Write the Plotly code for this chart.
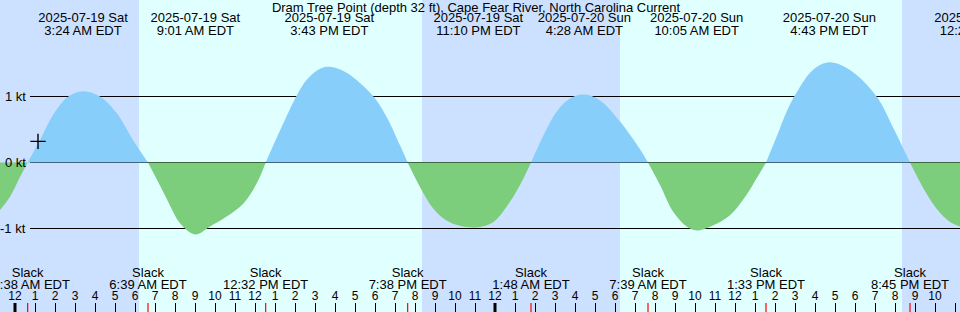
import plotly.graph_objects as go
from datetime import datetime

BASE = datetime(2025, 7, 19)


def hrs(s):
    return (datetime.strptime(s, "%Y-%m-%d %H:%M") - BASE).total_seconds() / 3600.0


# ---------------- data ----------------
TITLE = "Dram Tree Point (depth 32 ft), Cape Fear River, North Carolina Current"

# current speed samples (hours after 2025-07-19 00:00, knots)
sample_hours = [-0.75, -0.25, 0.25, 1.25, 1.75, 2.25, 2.67, 4.25, 5.08, 5.92,
                7.25, 7.75, 8.25, 9.75, 10.58, 11.42, 12.08,
                13.08, 13.58, 14.08, 14.58, 15.25, 16.58, 17.92, 18.58, 19.25,
                20.25, 20.92, 21.58, 22.25, 23.92, 24.58, 25.25,
                26.42, 27.08, 27.75, 29.25, 30.25, 31.25,
                32.25, 32.92, 33.58, 34.92, 35.75, 36.58, 37.08,
                38.08, 38.58, 39.08, 39.92, 41.75, 43.08, 43.92,
                45.42, 46.08, 46.75, 47.25]
sample_kt = [-0.72, -0.52, -0.22, 0.34, 0.64, 0.87, 1.0, 1.0, 0.75, 0.33,
             -0.35, -0.65, -0.92, -0.97, -0.82, -0.62, -0.32,
             0.37, 0.70, 1.01, 1.25, 1.42, 1.36, 1.0, 0.69, 0.26,
             -0.37, -0.70, -0.88, -0.96, -0.90, -0.67, -0.34,
             0.41, 0.77, 0.97, 0.94, 0.62, 0.20,
             -0.34, -0.75, -0.97, -0.95, -0.80, -0.49, -0.24,
             0.39, 0.77, 1.06, 1.41, 1.40, 1.0, 0.52,
             -0.39, -0.70, -0.90, -0.97]

slack_times = ["2025-07-19 00:38", "2025-07-19 06:39", "2025-07-19 12:32", "2025-07-19 19:38",
               "2025-07-20 01:48", "2025-07-20 07:39", "2025-07-20 13:33", "2025-07-20 20:45"]
slack_clock = ["12:38 AM EDT", "6:39 AM EDT", "12:32 PM EDT", "7:38 PM EDT",
               "1:48 AM EDT", "7:39 AM EDT", "1:33 PM EDT", "8:45 PM EDT"]

max_times = ["2025-07-19 03:24", "2025-07-19 09:01", "2025-07-19 15:43", "2025-07-19 23:10",
             "2025-07-20 04:28", "2025-07-20 10:05", "2025-07-20 16:43", "2025-07-21 00:21"]
max_kt = [1.08, -1.09, 1.45, -0.98, 1.03, -1.03, 1.52, -1.0]
max_date = ["2025-07-19 Sat", "2025-07-19 Sat", "2025-07-19 Sat", "2025-07-19 Sat",
            "2025-07-20 Sun", "2025-07-20 Sun", "2025-07-20 Sun", "2025-07-21 Mon"]
max_clock = ["3:24 AM EDT", "9:01 AM EDT", "3:43 PM EDT", "11:10 PM EDT",
             "4:28 AM EDT", "10:05 AM EDT", "4:43 PM EDT", "12:21 AM EDT"]

day_start = ["2025-07-19 06:12", "2025-07-20 06:15"]
day_end = ["2025-07-19 20:21", "2025-07-20 20:21"]

now_time = "2025-07-19 01:09"
now_kt = 0.32

kt_levels = [1, 0, -1]
kt_labels = ["1 kt", "0 kt", "-1 kt"]

hour_ticks = list(range(0, 48))
hour_labels = [str((h % 12) or 12) for h in hour_ticks]
midnights = [0, 24]

# ---------------- styles ----------------
NIGHT = "#cce0ff"
DAY = "#e0ffff"
FLOOD = "#87cefa"
EBB = "#7ccd7c"
FONT = "Liberation Sans, Arial, sans-serif"
W, H = 960, 312
PX_PER_KT = 66.0
ZERO_PX = 162.5
X_RANGE = [-0.75, 47.25]
Y_RANGE = [-(H - ZERO_PX) / PX_PER_KT, ZERO_PX / PX_PER_KT]

# ---------------- build curve ----------------
X_MIN, X_MAX = X_RANGE
pts = list(zip(sample_hours, sample_kt))
pts += [(hrs(t), 0.0) for t in slack_times]
pts += [(hrs(t), v) for t, v in zip(max_times, max_kt) if X_MIN <= hrs(t) <= X_MAX]
pts.sort()

segments = []
cur = []
for h, v in pts:
    cur.append((h, v))
    if v == 0 and len(cur) > 1:
        segments.append(cur)
        cur = [(h, v)]
if len(cur) > 1:
    segments.append(cur)

fig = go.Figure()
for seg in segments:
    xs = [p[0] for p in seg]
    ys = [p[1] for p in seg]
    pos = sum(ys) > 0
    col = FLOOD if pos else EBB
    fig.add_trace(go.Scatter(x=xs, y=ys, mode="lines",
                             line=dict(width=0, color=col, shape="spline", smoothing=1.0),
                             fill="tozeroy", fillcolor=col, hoverinfo="skip", showlegend=False))

# current-time marker
fig.add_trace(go.Scatter(x=[hrs(now_time)], y=[now_kt], mode="markers",
                         marker=dict(symbol="cross-thin", size=11, line=dict(width=1.4, color="black")),
                         showlegend=False, hoverinfo="skip"))

# event labels (y2 in pixel space)
txt = dict(family=FONT, size=13, color="black")
mx = [hrs(t) for t in max_times]
sx = [hrs(t) for t in slack_times]
fig.add_trace(go.Scatter(x=mx, y=[19] * len(mx), yaxis="y2", mode="text", text=max_date,
                         textfont=txt, showlegend=False, hoverinfo="skip"))
fig.add_trace(go.Scatter(x=mx, y=[32] * len(mx), yaxis="y2", mode="text", text=max_clock,
                         textfont=txt, showlegend=False, hoverinfo="skip"))
fig.add_trace(go.Scatter(x=sx, y=[274] * len(sx), yaxis="y2", mode="text", text=["Slack"] * len(sx),
                         textfont=txt, showlegend=False, hoverinfo="skip"))
fig.add_trace(go.Scatter(x=sx, y=[286] * len(sx), yaxis="y2", mode="text", text=slack_clock,
                         textfont=txt, showlegend=False, hoverinfo="skip"))

shapes = []
for a, b in zip(day_start, day_end):
    shapes.append(dict(type="rect", xref="x", yref="paper", x0=hrs(a), x1=hrs(b), y0=0, y1=1,
                       fillcolor=DAY, line=dict(width=0), layer="below"))
for lv in kt_levels:
    shapes.append(dict(type="line", xref="paper", yref="y", x0=30 / W, x1=1, y0=lv, y1=lv,
                       line=dict(color="black", width=1), layer="below"))
for m in midnights:
    shapes.append(dict(type="line", xref="x", yref="paper", x0=m, x1=m, y0=0, y1=9 / H,
                       line=dict(color="black", width=3), layer="above"))
for s in sx:
    shapes.append(dict(type="line", xref="x", yref="paper", x0=s, x1=s, y0=0, y1=9 / H,
                       line=dict(color="red", width=1.2), layer="above"))

annotations = []
for lv, lab in zip(kt_levels, kt_labels):
    annotations.append(dict(xref="paper", yref="y", x=28 / W, y=lv, xanchor="right", yanchor="middle",
                            text=lab, showarrow=False, font=txt))

fig.update_layout(
    width=W, height=H,
    margin=dict(l=0, r=0, t=0, b=0),
    paper_bgcolor=NIGHT, plot_bgcolor=NIGHT,
    showlegend=False,
    title=dict(text=TITLE, x=476 / W, xanchor="center", y=1 - 7 / H, yanchor="middle",
               yref="container", font=dict(family=FONT, size=13, color="black")),
    shapes=shapes, annotations=annotations,
    xaxis=dict(range=X_RANGE, tickvals=hour_ticks, ticktext=hour_labels, ticks="inside",
               ticklen=9, tickwidth=1, tickcolor="black", ticklabelposition="inside",
               tickfont=dict(family=FONT, size=12, color="black"),
               showgrid=False, zeroline=False, showline=False, fixedrange=True),
    yaxis=dict(range=Y_RANGE, showticklabels=False, showgrid=False, zeroline=False,
               ticks="", fixedrange=True),
    yaxis2=dict(range=[H, 0], overlaying="y", visible=False, fixedrange=True),
)

fig.write_html("out.html")
